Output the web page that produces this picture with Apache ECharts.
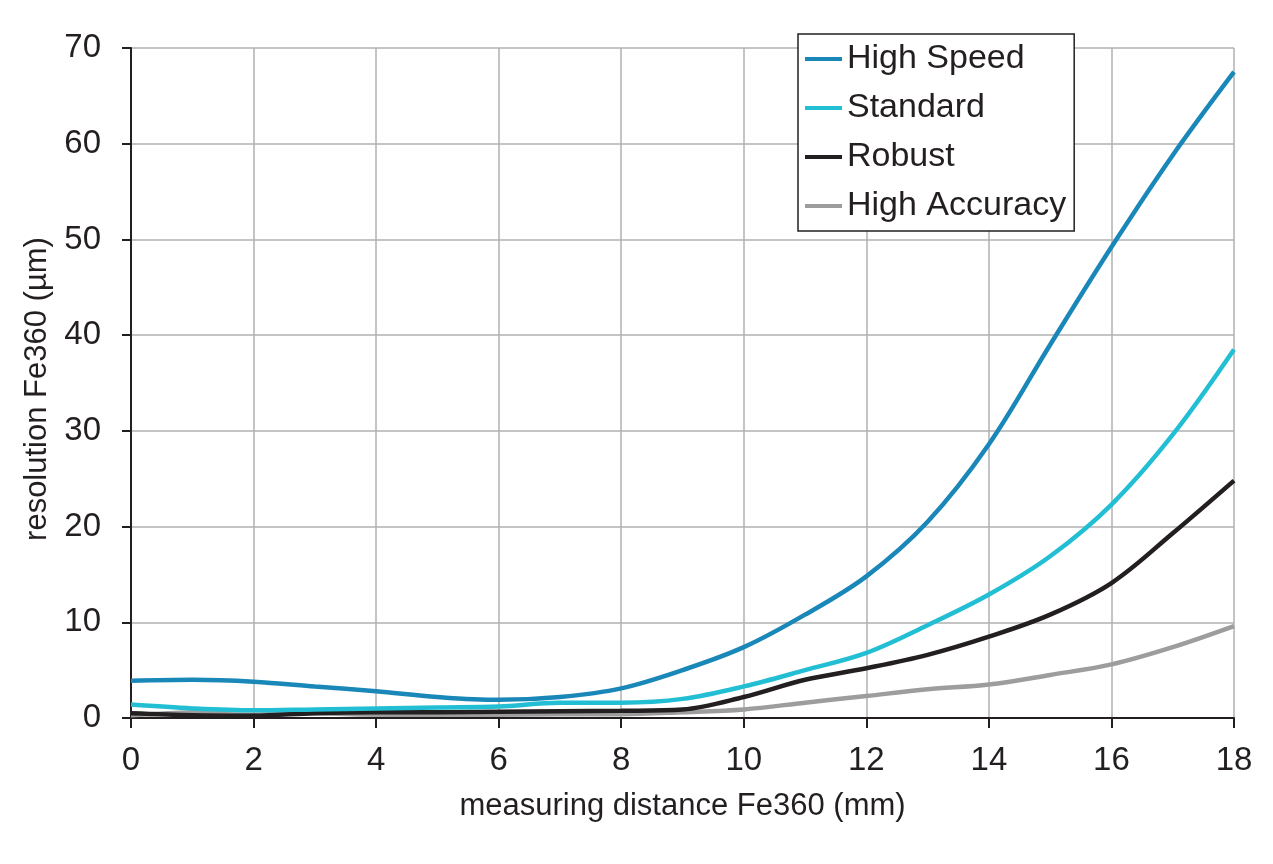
<!DOCTYPE html>
<html><head><meta charset="utf-8">
<script src="https://cdn.jsdelivr.net/npm/echarts@6/dist/echarts.min.js"></script>
<style>html,body{margin:0;padding:0;background:#fff}#c{width:1273px;height:864px}</style>
</head><body><div id="c"></div>
<script>
const xs = [0,1,2,3,4,5,6,7,8,9,10,11,12,13,14,15,16,17,18];
const highSpeed = [3.9,4.0,3.8,3.3,2.8,2.2,1.9,2.2,3.1,5.0,7.4,10.8,14.8,20.5,28.6,39.0,49.2,58.8,67.5];
const standard = [1.4,1.0,0.8,0.9,1.0,1.1,1.2,1.6,1.6,2.0,3.3,5.0,6.8,9.7,12.9,16.9,22.3,29.6,38.5];
const robust = [0.5,0.3,0.25,0.5,0.6,0.6,0.65,0.7,0.75,0.9,2.2,4.0,5.2,6.6,8.5,10.8,14.1,19.3,24.8];
const highAccuracy = [0.3,0.6,0.8,0.5,0.35,0.35,0.35,0.4,0.4,0.6,0.9,1.6,2.3,3.0,3.5,4.5,5.6,7.4,9.6];
const names = ['High Speed','Standard','Robust','High Accuracy'];
const colors = ['#1a87b9','#22bfd4','#231f20','#9d9d9d'];
const all = [highSpeed, standard, robust, highAccuracy];

const chart = echarts.init(document.getElementById('c'));
const font = "'Liberation Sans', Arial, sans-serif";
chart.setOption({
  animation:false,
  grid:{left:131,right:39,top:48,bottom:146},
  legend:{
    orient:'vertical', left:798, top:34, backgroundColor:'#fff',
    borderColor:'#231f20', borderWidth:1.5, padding:[8,8,8,7],
    itemWidth:37, itemHeight:4, itemGap:15, icon:'rect',
    textStyle:{fontSize:34, color:'#231f20', fontFamily:font},
    data:names
  },
  xAxis:{
    type:'value', min:0, max:18, interval:2,
    name:'measuring distance Fe360 (mm)', nameLocation:'middle', nameGap:73,
    nameTextStyle:{fontSize:31, color:'#231f20', fontFamily:font},
    axisLine:{lineStyle:{color:'#231f20', width:2}},
    axisTick:{show:true, length:10, lineStyle:{color:'#231f20', width:2}},
    axisLabel:{fontSize:33, color:'#231f20', fontFamily:font, margin:26},
    splitLine:{show:true, lineStyle:{color:'#b0b0b0', width:1.5}}
  },
  yAxis:{
    type:'value', min:0, max:70, interval:10,
    name:'resolution Fe360 (µm)', nameLocation:'middle', nameGap:73,
    nameTextStyle:{fontSize:31, color:'#231f20', fontFamily:font, padding:[0,12,0,0]},
    axisLine:{show:true, lineStyle:{color:'#231f20', width:2}},
    axisTick:{show:true, length:9, lineStyle:{color:'#231f20', width:2}},
    axisLabel:{fontSize:33, color:'#231f20', fontFamily:font, margin:30},
    splitLine:{show:true, lineStyle:{color:'#b0b0b0', width:1.5}}
  },
  series: all.map((d,i)=>({
    name:names[i], type:'line', smooth:0.35, showSymbol:false, symbol:'none',
    data: xs.map((x,j)=>[x,d[j]]),
    lineStyle:{color:colors[i], width:4.5},
    itemStyle:{color:colors[i]},
    z: 10 - i
  }))
});
</script></body></html>
